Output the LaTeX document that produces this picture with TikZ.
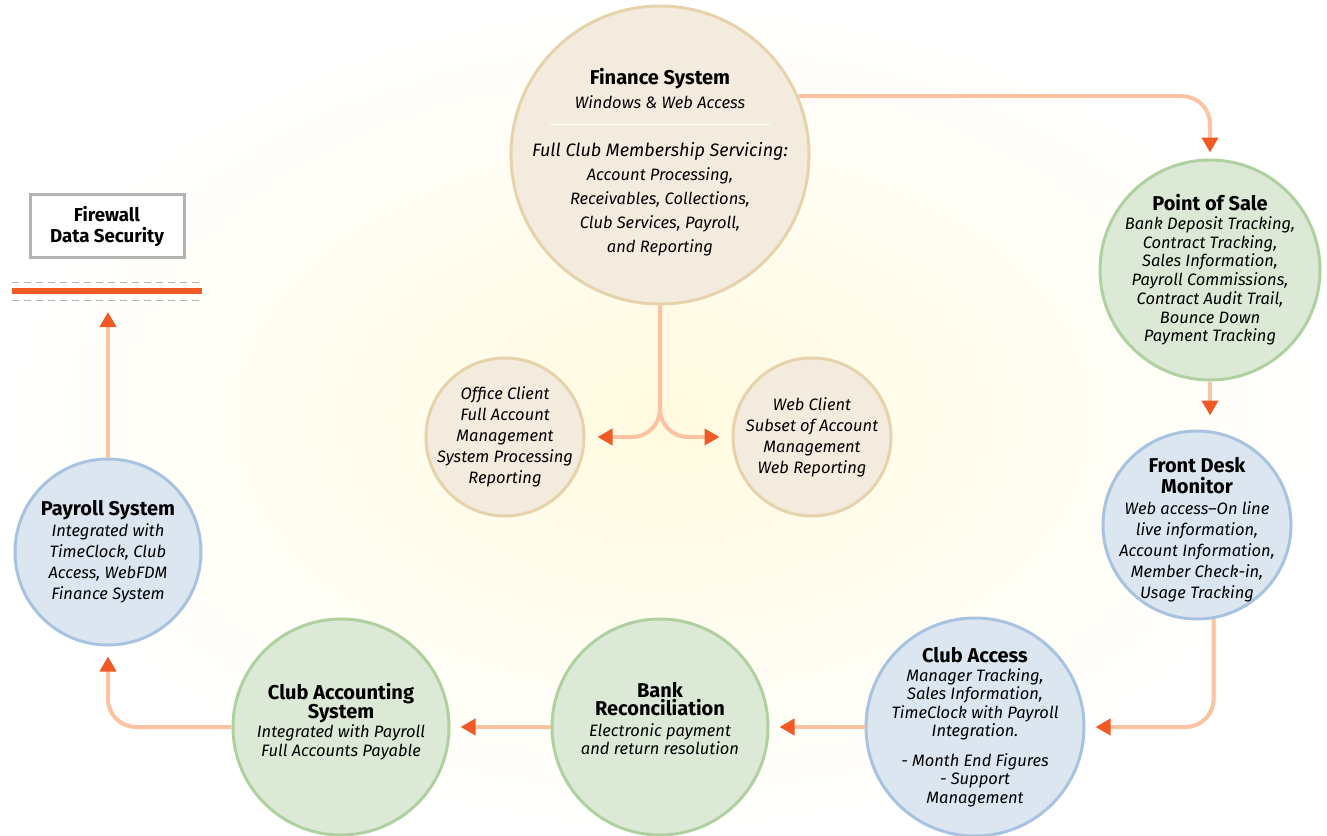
\documentclass[tikz,border=0pt]{standalone}
\usepackage{fontspec}
\setmainfont{Fira Sans}
\usetikzlibrary{arrows.meta}

\definecolor{tanfill}{HTML}{F3EBDD}
\definecolor{tanline}{HTML}{E6D3AC}
\definecolor{greenfill}{HTML}{DDE9D7}
\definecolor{greenline}{HTML}{AFD09F}
\definecolor{bluefill}{HTML}{DCE6F1}
\definecolor{blueline}{HTML}{A8C3DF}
\definecolor{peach}{HTML}{FDC2A2}
\definecolor{arrowred}{HTML}{F15A24}
\definecolor{bgyellow}{HTML}{FFFADF}
\definecolor{wallgray}{HTML}{B3B3B3}

\newcommand{\sysname}[1]{{\upshape\bfseries\fontsize{20}{22}\selectfont #1}}

\begin{document}
\begin{tikzpicture}[x=1pt, y=-1pt,
    ball/.style={circle, inner sep=0pt, line width=3pt},
    tanball/.style={ball, draw=tanline, fill=tanfill},
    greenball/.style={ball, draw=greenline, fill=greenfill},
    blueball/.style={ball, draw=blueline, fill=bluefill},
    balltext/.style={inner sep=0pt, align=center, font=\itshape\fontsize{16.5}{#1}\selectfont},
    balltext/.default=19,
    flow/.style={draw=peach, line width=4pt, rounded corners=28pt,
      -{Triangle[color=arrowred, length=15pt, width=16pt]}},
  ]
    \useasboundingbox (0, 0) rectangle (1327, 835);
    \shade [inner color=bgyellow, outer color=white] (0, 0) rectangle (1327, 835);
    % finance and its clients
    \node [tanball, minimum size=298] (finance) at (660, 155) {};
    \node [balltext=24] (financetxt) at ([yshift=-7pt]finance.center)
      {\sysname{Finance System}\\ Windows \& Web Access\\[24pt]
       {\fontsize{18}{24}\selectfont Full Club Membership Servicing:}\\ Account Processing,\\ Receivables, Collections,\\
       Club Services, Payroll,\\ and Reporting};
    \draw [white, line width=1pt] ([xshift=-110pt, yshift=31pt]finance.center) -- ([xshift=110pt, yshift=31pt]finance.center);
    \node [tanball, minimum size=158] (office) at (505, 437) {};
    \node [balltext=21] (officetxt) at (office)
      {Office Client\\ Full Account\\ Management\\ System Processing\\ Reporting};
    \node [tanball, minimum size=158] (web) at (812, 437) {};
    \node [balltext=21] (webtxt) at (web)
      {Web Client\\ Subset of Account\\ Management\\ Web Reporting};
    % right side
    \node [greenball, minimum size=220] (pos) at (1210, 270) {};
    \node [balltext=18.7] (postxt) at (pos)
      {\sysname{Point of Sale}\\ Bank Deposit Tracking,\\ Contract Tracking,\\ Sales Information,\\
       Payroll Commissions,\\ Contract Audit Trail,\\ Bounce Down\\ Payment Tracking};
    \node [blueball, minimum size=188] (desk) at (1197, 525) {};
    \node [balltext=21] (desktxt) at ([yshift=-5pt]desk.center)
      {\sysname{Front Desk}\\ \sysname{Monitor}\\ Web access--On line\\ live information,\\
       Account Information,\\ Member Check-in,\\ Usage Tracking};
    % bottom row
    \node [blueball, minimum size=218] (clubaccess) at (975, 727) {};
    \node [balltext=18.5] (clubaccesstxt) at (clubaccess)
      {\sysname{Club Access}\\ Manager Tracking,\\ Sales Information,\\ TimeClock with Payroll\\
       Integration.\\[11pt] - Month End Figures\\ - Support\\ Management};
    \node [greenball, minimum size=216] (bank) at (660, 727) {};
    \node [balltext=18] (banktxt) at ([yshift=9pt]bank.center)
      {\sysname{Bank}\\ \sysname{Reconciliation}\\[3pt] Electronic payment\\ and return resolution};
    \node [greenball, minimum size=216] (clubacct) at (341, 727) {};
    \node [balltext=19] (clubaccttxt) at ([yshift=5pt]clubacct.center)
      {\sysname{Club Accounting}\\ \sysname{System}\\ Integrated with Payroll\\ Full Accounts Payable};
    % left side
    \node [blueball, minimum size=186] (payroll) at (108, 552) {};
    \node [balltext=21] (payrolltxt) at (payroll)
      {\sysname{Payroll System}\\ Integrated with\\ TimeClock, Club\\ Access, WebFDM\\ Finance System};
    \node [draw=wallgray, fill=white, line width=3pt, minimum width=154, minimum height=63,
      align=center, font=\bfseries\fontsize{18.7}{21}\selectfont] (firewall) at (107, 226)
      {Firewall\\ Data Security};
    % the wall
    \draw [wallgray, line width=1pt, dash pattern=on 7pt off 5pt] (12, 282) -- (202, 282);
    \draw [wallgray, line width=1pt, dash pattern=on 7pt off 5pt] (12, 300) -- (202, 300);
    \draw [arrowred, line width=6pt] (12, 291) -- (202, 291);
    \coordinate (walltip) at (108, 312);
    % connectors
    \draw [flow] (finance.23.6) -| ([yshift=6pt]pos.north);
    \draw [flow] (finance.south) |- ([xshift=12pt]office.east);
    \draw [flow] (finance.south) |- ([xshift=-12pt]web.west);
    \draw [flow] (pos.south) -- ([yshift=14pt]pos.south |- desk.north);
    \draw [flow] (desk.-80) |- ([xshift=10pt]clubaccess.east);
    \draw [flow] (clubaccess.west) -- ([xshift=10pt]bank.east);
    \draw [flow] (bank.west) -- ([xshift=10pt]clubacct.east);
    \draw [flow] (clubacct.west) -| ([yshift=-10pt]payroll.south);
    \draw [flow] (payroll.north) -- (walltip);
\end{tikzpicture}
\end{document}
